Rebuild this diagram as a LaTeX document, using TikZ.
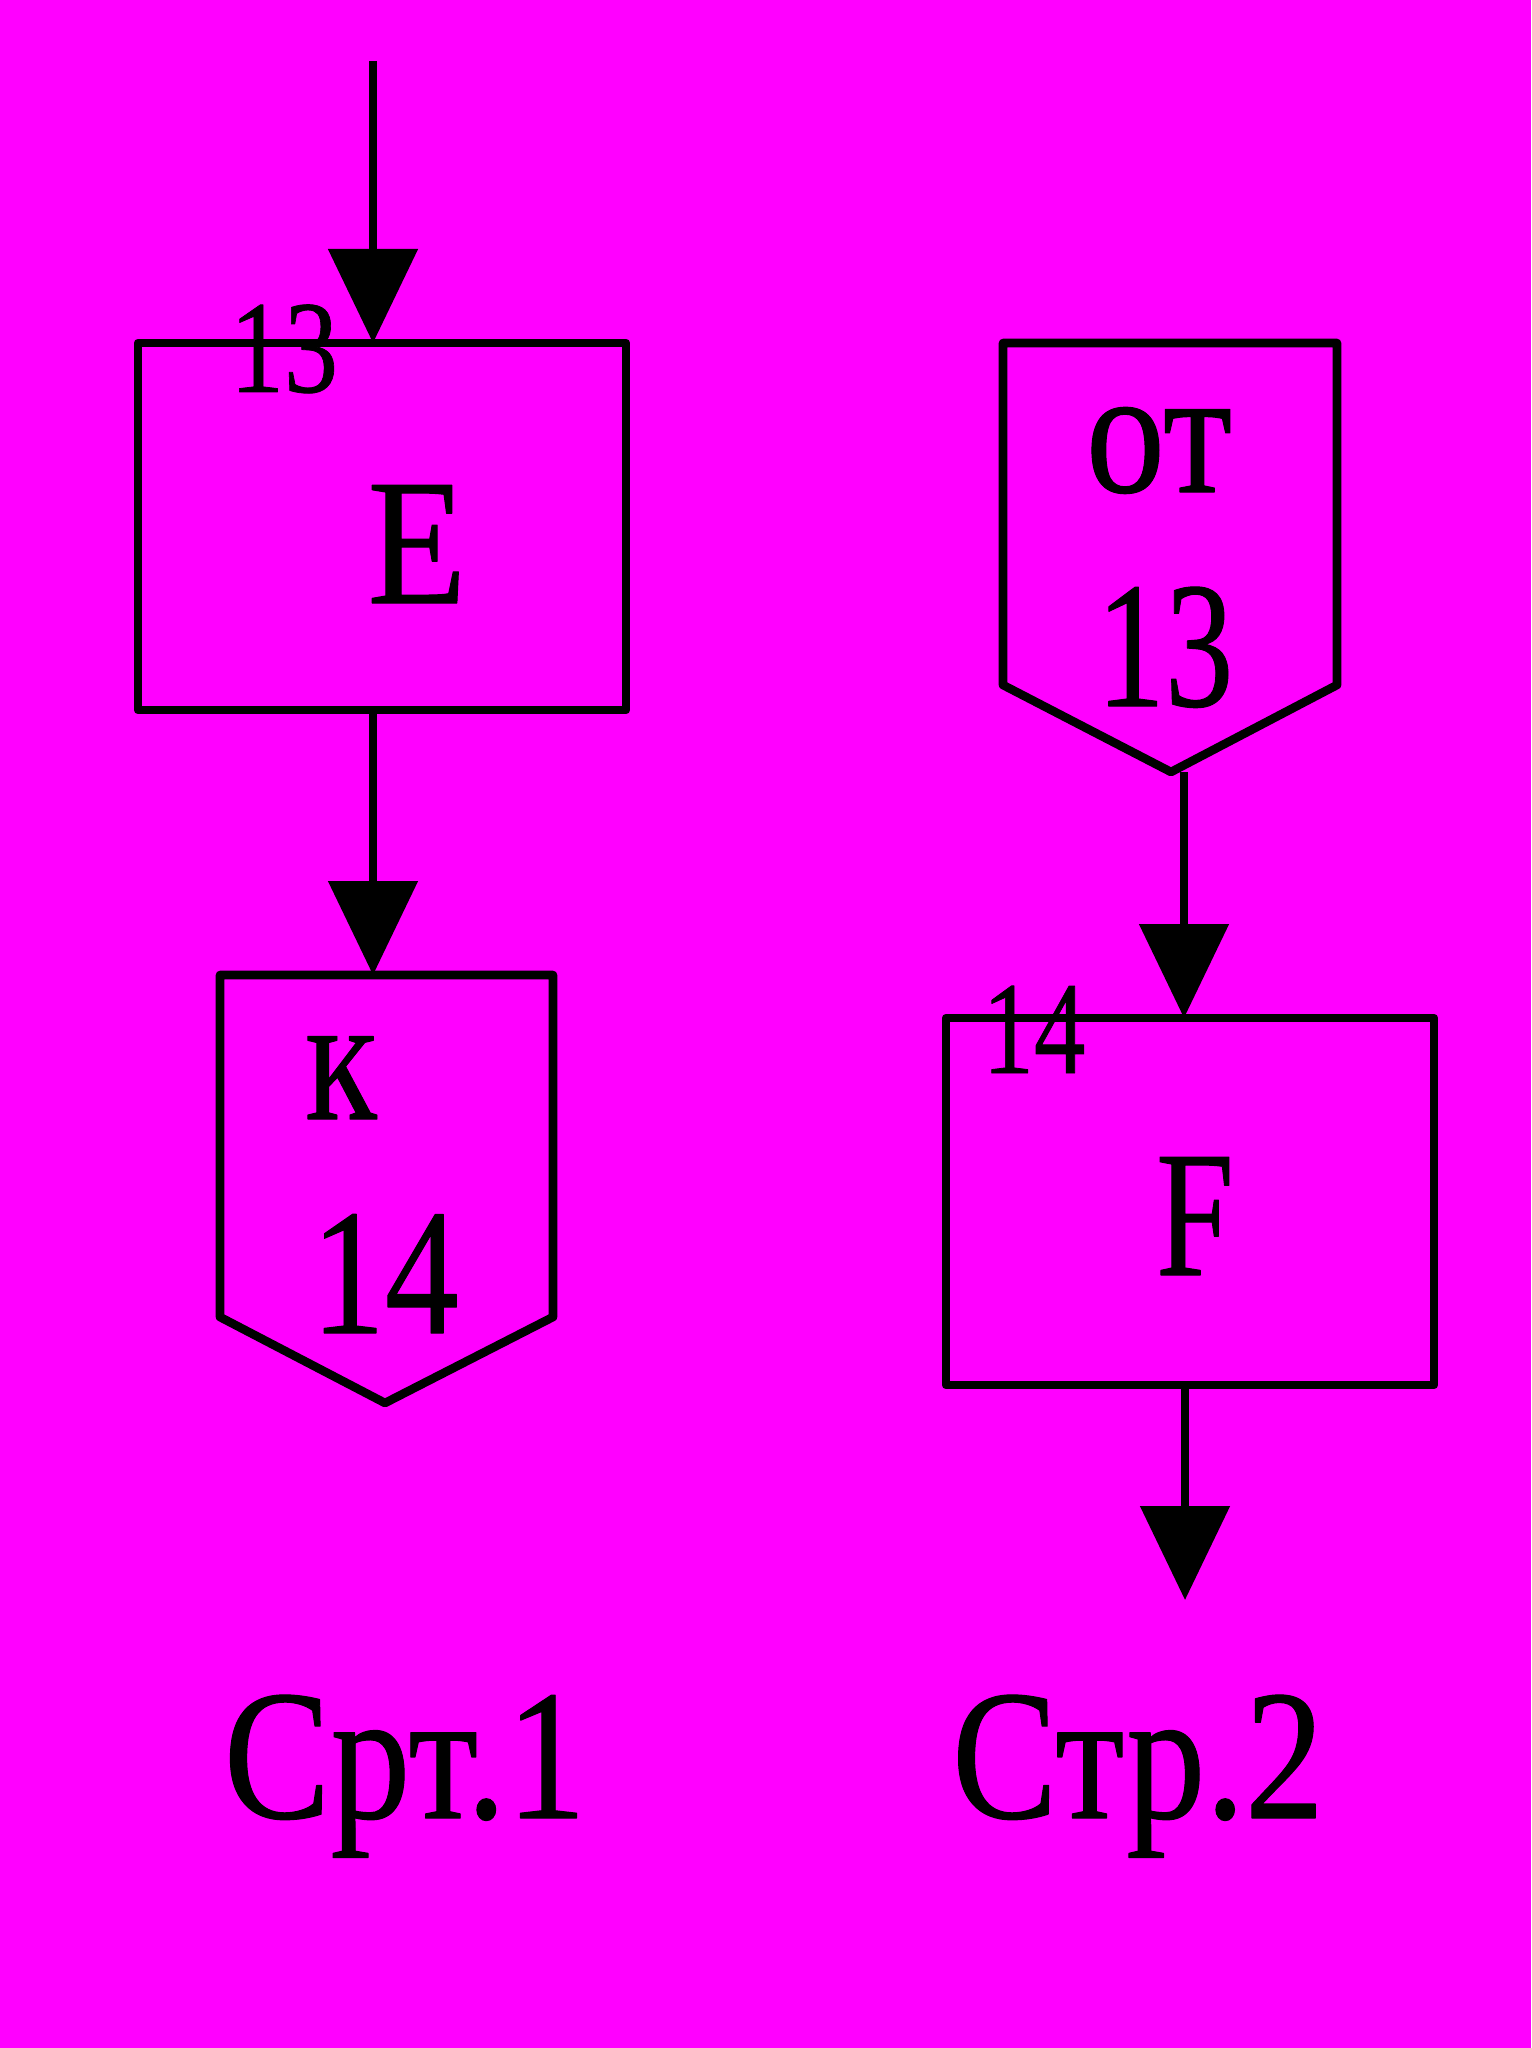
\documentclass[tikz,border=0pt]{standalone}
\usepackage{fontspec}
\setmainfont{Liberation Serif}[FakeBold=0.6]
\usetikzlibrary{arrows.meta}
\definecolor{bgmag}{RGB}{255,0,255}
\newcommand{\narrow}[2][0.82]{\scalebox{#1}[1]{#2}}

\begin{document}
\begin{tikzpicture}[x=0.5pt, y=-0.5pt,
    line join=round,
    block/.style={draw, line width=4.3pt, minimum width=244pt,
      minimum height=183.5pt, inner sep=0pt, outer sep=0pt},
    offpage/.style={draw, line width=4.3pt},
    conn/.style={line width=4.3pt, -{Triangle[length=47pt, width=44pt]}},
    big/.style={font=\fontsize{90}{90}\selectfont, inner sep=0pt, anchor=base},
    small/.style={font=\fontsize{66}{66}\selectfont, inner sep=0pt, anchor=base},
    caption/.style={font=\fontsize{93}{93}\selectfont, inner sep=0pt, anchor=base}]
  \fill[bgmag] (0,0) rectangle (1531,2048);
  \useasboundingbox (0,0) rectangle (1531,2048);

  % page 1
  \node[block] (E) at (382,526.5) {};
  \node[small] (E-num) at (284,392) {\narrow{13}};
  \node[big] (E-lbl) at (417,603) {\narrow[0.9]{E}};
  \coordinate (in) at (373,61);
  \coordinate (K) at (373,975);
  \draw[offpage] (220,975) -- (553,975) -- (553,1317) -- (385,1403)
    -- (220,1317) -- cycle;
  \node[big] (K-a) at (341,1119) {\narrow{к}};
  \node[big] (K-num) at (385,1333) {\narrow{14}};
  \draw[conn] (in) -- (in |- E.north);
  \draw[conn] (E.south -| K) -- (K);
  \node[caption] (cap1) at (405,1818) {\narrow[0.86]{Срт.1}};

  % page 2
  \coordinate (OT) at (1184,772);
  \draw[offpage] (1003,343) -- (1337,343) -- (1337,685) -- (1171,772)
    -- (1003,685) -- cycle;
  \node[big] (OT-a) at (1159,492) {\narrow[0.88]{от}};
  \node[big] (OT-num) at (1165,706) {\narrow[0.76]{13}};
  \node[block] (F) at (1190,1201.5) {};
  \node[small] (F-num) at (1034,1073) {\narrow[0.78]{14}};
  \node[big] (F-lbl) at (1195,1275) {\narrow[0.78]{F}};
  \coordinate (out) at (1185,1600);
  \draw[conn] (OT) -- (OT |- F.north);
  \draw[conn] (F.south -| out) -- (out);
  \node[caption] (cap2) at (1138,1818) {\narrow[0.85]{Стр.2}};
\end{tikzpicture}
\end{document}
